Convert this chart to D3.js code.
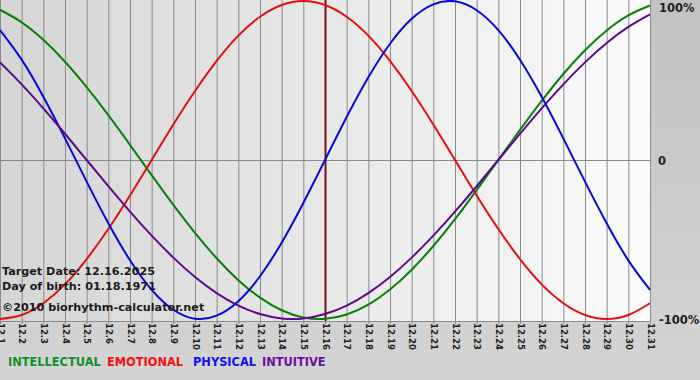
<!DOCTYPE html>
<html><head><meta charset="utf-8">
<script src="https://cdn.jsdelivr.net/npm/d3@7"></script>
<style>
html,body{margin:0;padding:0;background:#c8c8c8;}
svg{display:block;}
text{font-family:"DejaVu Sans",Verdana,sans-serif;}
</style></head>
<body><svg id="c" width="700" height="380"></svg>
<script>
const days = ["12.1","12.2","12.3","12.4","12.5","12.6","12.7","12.8","12.9","12.10","12.11","12.12","12.13","12.14","12.15","12.16","12.17","12.18","12.19","12.20","12.21","12.22","12.23","12.24","12.25","12.26","12.27","12.28","12.29","12.30","12.31"];
const intellectual = [94.5,86.6,75.6,61.8,45.8,28.2,9.5,-9.5,-28.2,-45.8,-61.8,-75.6,-86.6,-94.5,-99.0,-99.9,-97.2,-91.0,-81.5,-69.0,-54.1,-37.2,-18.9,0,18.9,37.2,54.1,69.0,81.5,91.0,97.2];
const emotional = [-100,-97.5,-90.1,-78.2,-62.3,-43.4,-22.3,0,22.3,43.4,62.3,78.2,90.1,97.5,100,97.5,90.1,78.2,62.3,43.4,22.3,0,-22.3,-43.4,-62.3,-78.2,-90.1,-97.5,-100,-97.5,-90.1];
const physical = [81.7,63.1,39.8,13.6,-13.6,-39.8,-63.1,-81.7,-94.2,-99.8,-97.9,-88.8,-73.1,-52.0,-27.0,0,27.0,52.0,73.1,88.8,97.9,99.8,94.2,81.7,63.1,39.8,13.6,-13.6,-39.8,-63.1,-81.7];
const intuitive = [61.4,47.6,32.5,16.5,0,-16.5,-32.5,-47.6,-61.4,-73.6,-83.7,-91.6,-96.9,-99.7,-99.7,-96.9,-91.6,-83.7,-73.6,-61.4,-47.6,-32.5,-16.5,0,16.5,32.5,47.6,61.4,73.6,83.7,91.6];
const seriesNames = ["INTELLECTUAL","EMOTIONAL","PHYSICAL","INTUITIVE"];
const yTickLabels = ["100%","0","-100%"];
const yTickValues = [100,0,-100];
const targetDay = "12.16";
const infoLines = ["Target Date: 12.16.2025","Day of birth: 01.18.1971","©2010 biorhythm-calculator.net"];

const lineColors = ["#0a800a","#e01010","#0808d8","#5a0a8a"];
const legendColors = ["#10902a","#f01010","#1010f0","#6a109a"];

const svg = d3.select("#c");
const W = 700, H = 380;
const plotR = 651, plotB = 321;

const defs = svg.append("defs");
const bg = defs.append("linearGradient").attr("id","bg").attr("x1",0).attr("x2",0).attr("y1",0).attr("y2",1);
bg.append("stop").attr("offset",0).attr("stop-color","#c2c2c2");
bg.append("stop").attr("offset",1).attr("stop-color","#d4d4d4");
const pg = defs.append("linearGradient").attr("id","pg").attr("x1",0).attr("x2",1).attr("y1",0).attr("y2",0);
pg.append("stop").attr("offset",0).attr("stop-color","#d5d5d5");
pg.append("stop").attr("offset",1).attr("stop-color","#fbfbfb");
defs.append("clipPath").attr("id","clip").append("rect").attr("x",0).attr("y",0).attr("width",plotR).attr("height",plotB);

svg.append("rect").attr("width",W).attr("height",H).attr("fill","url(#bg)");
svg.append("rect").attr("x",0).attr("y",0).attr("width",plotR).attr("height",plotB).attr("fill","url(#pg)");

const x = d3.scalePoint().domain(days).range([0,650]);
const y = d3.scaleLinear().domain([-100,100]).range([319,1]);

// vertical gridlines
svg.append("g").selectAll("line").data(days).join("line")
  .attr("x1",d=>x(d)+0.5).attr("x2",d=>x(d)+0.5).attr("y1",0).attr("y2",plotB+3)
  .attr("stroke","#8a8a8a").attr("stroke-width",1);
// zero line
svg.append("line").attr("x1",0).attr("x2",plotR).attr("y1",Math.round(y(0))+0.5).attr("y2",Math.round(y(0))+0.5)
  .attr("stroke","#8a8a8a");
// bottom axis
svg.append("line").attr("x1",0).attr("x2",plotR).attr("y1",plotB+0.5).attr("y2",plotB+0.5).attr("stroke","#8a8a8a");

// target line
svg.append("line").attr("x1",x(targetDay)+0.5).attr("x2",x(targetDay)+0.5).attr("y1",0).attr("y2",plotB)
  .attr("stroke","#7a1010").attr("stroke-width",2);

// curves
const allSeries = [intellectual, emotional, physical, intuitive];
const line = d3.line().x((d,i)=>x(days[i])).y(d=>y(d)).curve(d3.curveNatural);
const g = svg.append("g").attr("clip-path","url(#clip)");
g.selectAll("path").data(allSeries).join("path")
  .attr("d",line).attr("fill","none")
  .attr("stroke",(d,i)=>lineColors[i]).attr("stroke-width",2);

// x labels
svg.append("g").selectAll("text").data(days).join("text")
  .attr("transform",d=>`translate(${x(d)+0.5},${plotB+2}) rotate(90)`)
  .attr("dy","0.35em").attr("font-size","8.5px").attr("font-weight","bold")
  .attr("fill","#202020").text(d=>d);

// y labels
svg.append("g").selectAll("text").data(yTickValues).join("text")
  .attr("x",d=> d===0 ? 658 : 659)
  .attr("y",d=> d===100 ? 12 : y(d)+5)
  .attr("font-size","11.5px").attr("font-weight","bold").attr("fill","#202020")
  .text((d,i)=>yTickLabels[i]);

// info text
svg.append("g").selectAll("text").data(infoLines).join("text")
  .attr("x",2).attr("y",(d,i)=>[275,290,311][i])
  .attr("font-size","11.2px").attr("font-weight","bold").attr("fill","#1a1a1a")
  .text(d=>d);

// legend
const legX = [8,107,193,262];
svg.append("g").selectAll("text").data(seriesNames).join("text")
  .attr("x",(d,i)=>legX[i]).attr("y",366)
  .attr("font-size","11.4px").attr("font-weight","bold")
  .attr("fill",(d,i)=>legendColors[i]).text(d=>d);
</script></body></html>
